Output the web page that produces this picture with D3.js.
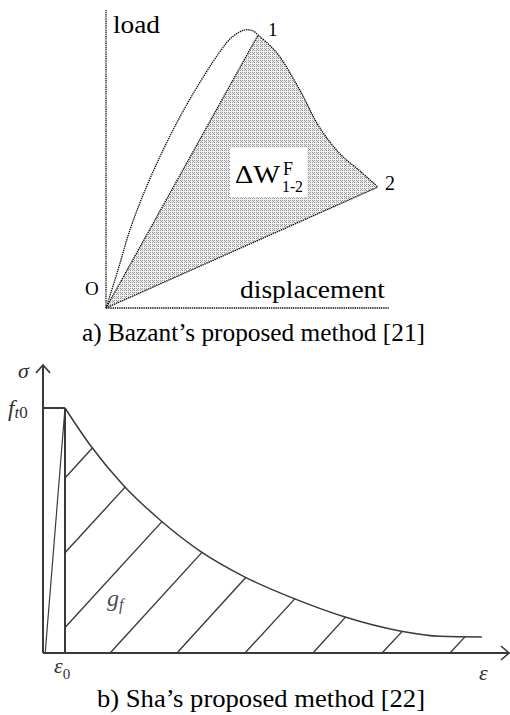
<!DOCTYPE html>
<html>
<head>
<meta charset="utf-8">
<script src="https://cdn.jsdelivr.net/npm/d3@7"></script>
<style>
    body { margin: 0; background: #fff; }
    svg { display: block; }
</style>
</head>
<body>
<svg id="chart" width="510" height="715"></svg>
<script>
// a) Bazant - load / displacement (arbitrary units)
const loadingCurve = [ [ 0, 0 ], [ 0.43, 1.28 ], [ 0.82, 2.52 ], [ 1.25, 3.62 ], [ 1.79, 4.8 ], [ 2.43, 6.04 ],
    [ 3.21, 7.35 ], [ 4.04, 8.56 ], [ 4.5, 9.09 ], [ 4.96, 9.33 ], [ 5.25, 9.3 ], [ 5.43, 9.16 ] ];
const unloadingCurve = [ [ 5.43, 9.16 ], [ 6.11, 8.55 ], [ 6.93, 7.3 ], [ 7.6, 6.1 ], [ 8.36, 5.17 ],
    [ 9.07, 4.6 ], [ 9.71, 4.06 ] ];
const point1 = [ 5.43, 9.16 ];
const point2 = [ 9.71, 4.06 ];
const axisMaxA = [ 10.1, 10 ];

// b) Sha - stress / strain softening (sigma in units of ft0)
const softeningCurve = [ [ 1, 1 ], [ 2.14, 0.849 ], [ 3.64, 0.686 ], [ 5.32, 0.543 ], [ 7.14, 0.416 ],
    [ 9.18, 0.31 ], [ 11.36, 0.224 ], [ 13.73, 0.147 ], [ 16.23, 0.09 ], [ 18.05, 0.068 ], [ 19.95, 0.065 ] ];
const eps0 = 1;
const ft0 = 1;
const elasticStart = [ 0.1, 0 ];
const hatchStarts = [ -6.23, -3.14, -0.05, 3.05, 6.09, 9.18, 12.27, 15.41, 18.5 ];
const hatchSlope = 0.0988;
const axisMaxB = [ 21.18, 1.176 ];

const svg = d3.select( '#chart' ).attr( 'font-family', 'Liberation Serif' );

// ---------- a) ----------
const x = d3.scaleLinear().domain( [ 0, 10 ] ).range( [ 106, 386 ] ),
    y = d3.scaleLinear().domain( [ 0, 10 ] ).range( [ 308, 10 ] );

const defs = svg.append( 'defs' );
const pat = defs.append( 'pattern' )
    .attr( 'id', 'dots' ).attr( 'width', 4 ).attr( 'height', 4 )
    .attr( 'patternUnits', 'userSpaceOnUse' );
pat.append( 'rect' ).attr( 'width', 4 ).attr( 'height', 4 ).attr( 'fill', '#eeeeee' );
[ [ 0, 0 ], [ 2, 0 ], [ 1, 1 ], [ 0, 2 ], [ 2, 2 ] ].forEach( p => {
    pat.append( 'rect' ).attr( 'x', p[ 0 ] ).attr( 'y', p[ 1 ] ).attr( 'width', 1 ).attr( 'height', 1 ).attr( 'fill', '#9a9a9a' );
} );

const smooth = d3.line().x( d => x( d[ 0 ] ) ).y( d => y( d[ 1 ] ) ).curve( d3.curveCatmullRom.alpha( 0.5 ) );

let unloadPath = smooth( unloadingCurve );
svg.append( 'path' )
    .attr( 'd', 'M' + x( 0 ) + ',' + y( 0 ) + 'L' + unloadPath.slice( 1 ) + 'Z' )
    .attr( 'fill', 'url(#dots)' )
    .attr( 'stroke', 'none' );

const dotted = sel => sel.attr( 'fill', 'none' ).attr( 'stroke', '#111' )
    .attr( 'stroke-width', 1.3 ).attr( 'stroke-dasharray', '1.4,0.8' );

svg.append( 'path' ).attr( 'd', smooth( loadingCurve ) ).call( dotted );
svg.append( 'path' ).attr( 'd', unloadPath ).call( dotted );
svg.append( 'line' ).attr( 'x1', x( 0 ) ).attr( 'y1', y( 0 ) ).attr( 'x2', x( point1[ 0 ] ) ).attr( 'y2', y( point1[ 1 ] ) ).call( dotted );
svg.append( 'line' ).attr( 'x1', x( 0 ) ).attr( 'y1', y( 0 ) ).attr( 'x2', x( point2[ 0 ] ) ).attr( 'y2', y( point2[ 1 ] ) ).call( dotted );
svg.append( 'line' ).attr( 'x1', x( 0 ) ).attr( 'y1', y( 0 ) ).attr( 'x2', x( 0 ) ).attr( 'y2', y( axisMaxA[ 1 ] ) ).call( dotted );
svg.append( 'line' ).attr( 'x1', x( 0 ) ).attr( 'y1', y( 0 ) ).attr( 'x2', x( axisMaxA[ 0 ] ) ).attr( 'y2', y( 0 ) ).call( dotted );

const txt = ( t, px, py, size, len ) => {
    let el = svg.append( 'text' ).attr( 'x', px ).attr( 'y', py ).attr( 'font-size', size ).text( t );
    if( len ) el.attr( 'textLength', len ).attr( 'lengthAdjust', 'spacingAndGlyphs' );
    return el;
};

txt( 'load', 113, 33, 25, 47 );
txt( 'displacement', 240, 298, 25, 145 );
txt( 'O', 85, 295, 19 );
txt( '1', x( point1[ 0 ] ) + 10, y( point1[ 1 ] ) + 1, 19 );
txt( '2', x( point2[ 0 ] ) + 7, y( point2[ 1 ] ) + 3, 20 );

svg.append( 'rect' ).attr( 'x', 230 ).attr( 'y', 148 ).attr( 'width', 77 ).attr( 'height', 49 ).attr( 'fill', '#fff' );
txt( '\u0394W', 235, 183, 25, 45 );
txt( 'F', 283, 175, 18 );
txt( '1-2', 282, 192, 16, 21 );

txt( 'a) Bazant\u2019s proposed method [21]', 82, 341, 25, 343 );

// ---------- b) ----------
const xs = d3.scaleLinear().domain( [ 0, 21 ] ).range( [ 43, 505 ] ),
    ys = d3.scaleLinear().domain( [ 0, 1 ] ).range( [ 653, 408 ] );

const gb = svg.append( 'g' ).attr( 'stroke', '#3a3a3a' ).attr( 'fill', 'none' );

// axes with open arrow heads
gb.append( 'line' ).attr( 'x1', xs( 0 ) ).attr( 'y1', ys( 0 ) ).attr( 'x2', xs( 0 ) ).attr( 'y2', ys( axisMaxB[ 1 ] ) ).attr( 'stroke-width', 2 );
gb.append( 'line' ).attr( 'x1', xs( 0 ) ).attr( 'y1', ys( 0 ) ).attr( 'x2', xs( axisMaxB[ 0 ] ) ).attr( 'y2', ys( 0 ) ).attr( 'stroke-width', 2 );
gb.append( 'polyline' ).attr( 'stroke-width', 1.6 )
    .attr( 'points', [ [ xs( 0 ) - 7, ys( axisMaxB[ 1 ] ) + 8 ], [ xs( 0 ), ys( axisMaxB[ 1 ] ) ], [ xs( 0 ) + 7, ys( axisMaxB[ 1 ] ) + 8 ] ].join( ' ' ) );
gb.append( 'polyline' ).attr( 'stroke-width', 1.6 )
    .attr( 'points', [ [ xs( axisMaxB[ 0 ] ) - 8, ys( 0 ) - 7 ], [ xs( axisMaxB[ 0 ] ), ys( 0 ) ], [ xs( axisMaxB[ 0 ] ) - 8, ys( 0 ) + 7 ] ].join( ' ' ) );

// peak plateau, elastic branch, vertical at eps0
gb.append( 'line' ).attr( 'x1', xs( 0 ) ).attr( 'y1', ys( ft0 ) ).attr( 'x2', xs( eps0 ) ).attr( 'y2', ys( ft0 ) ).attr( 'stroke-width', 2 );
gb.append( 'line' ).attr( 'x1', xs( eps0 ) ).attr( 'y1', ys( 0 ) ).attr( 'x2', xs( eps0 ) ).attr( 'y2', ys( ft0 ) ).attr( 'stroke-width', 2 );
gb.append( 'line' ).attr( 'x1', xs( elasticStart[ 0 ] ) ).attr( 'y1', ys( elasticStart[ 1 ] ) ).attr( 'x2', xs( eps0 ) ).attr( 'y2', ys( ft0 ) ).attr( 'stroke-width', 1.2 );

const curveB = gb.append( 'path' )
    .attr( 'd', d3.line().x( d => xs( d[ 0 ] ) ).y( d => ys( d[ 1 ] ) ).curve( d3.curveMonotoneX )( softeningCurve ) )
    .attr( 'stroke-width', 1.5 );

// sample the drawn curve to clip the hatching
const node = curveB.node(), total = node.getTotalLength();
const samples = d3.range( 0, total, 0.5 ).map( l => {
    let p = node.getPointAtLength( l );
    return [ xs.invert( p.x ), ys.invert( p.y ) ];
} );

hatchStarts.forEach( x0 => {
    let sx = Math.max( x0, eps0 ),
        sy = hatchSlope * ( sx - x0 );
    let hit = samples.find( p => p[ 1 ] <= hatchSlope * ( p[ 0 ] - x0 ) );
    if( !hit ) return;
    gb.append( 'line' )
        .attr( 'x1', xs( sx ) ).attr( 'y1', ys( sy ) )
        .attr( 'x2', xs( hit[ 0 ] ) ).attr( 'y2', ys( hit[ 1 ] ) )
        .attr( 'stroke-width', 1.4 );
} );

const tb = svg.append( 'g' ).attr( 'fill', '#333' ).attr( 'font-style', 'italic' );
tb.append( 'text' ).attr( 'x', 18 ).attr( 'y', 378 ).attr( 'font-size', 22 ).text( '\u03c3' );
let ft = tb.append( 'text' ).attr( 'x', 8 ).attr( 'y', 416 ).attr( 'font-size', 23 );
ft.append( 'tspan' ).text( 'f' );
ft.append( 'tspan' ).attr( 'font-size', 17 ).attr( 'dy', 2 ).text( 't' );
ft.append( 'tspan' ).attr( 'font-size', 17 ).attr( 'font-style', 'normal' ).text( '0' );
let e0 = tb.append( 'text' ).attr( 'x', 54 ).attr( 'y', 673 ).attr( 'font-size', 22 );
e0.append( 'tspan' ).text( '\u03b5' );
e0.append( 'tspan' ).attr( 'font-size', 15 ).attr( 'dy', 6 ).attr( 'font-style', 'normal' ).text( '0' );
tb.append( 'text' ).attr( 'x', 479 ).attr( 'y', 680 ).attr( 'font-size', 22 ).text( '\u03b5' );
let gf = tb.append( 'text' ).attr( 'x', 107 ).attr( 'y', 606 ).attr( 'font-size', 24 ).attr( 'fill', '#4a4d5a' );
gf.append( 'tspan' ).text( 'g' );
gf.append( 'tspan' ).attr( 'font-size', 16 ).attr( 'dy', 4 ).text( 'f' );

txt( 'b) Sha\u2019s proposed method [22]', 97, 707, 26, 328 );
</script>
</body>
</html>
